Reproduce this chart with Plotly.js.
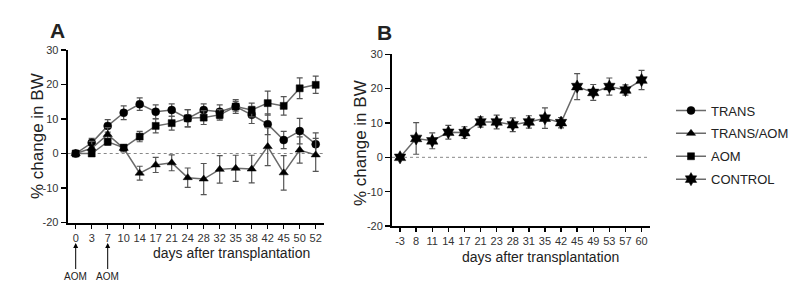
<!DOCTYPE html>
<html>
<head>
<meta charset="utf-8">
<script src="https://cdn.plot.ly/plotly-3.0.1.min.js"></script>
<style>html,body{margin:0;padding:0;background:#fff;}#chart{width:805px;height:307px;}</style>
</head>
<body>
<div id="chart"></div>
<script>
// ---------- DATA ----------
var daysA = ['0','3','7','10','14','17','21','24','28','32','35','38','42','45','50','52'];
var transVals = [0, 3.1, 8.0, 11.8, 14.3, 12.1, 12.6, 10.2, 12.6, 12.1, 13.6, 11.2, 8.5, 3.9, 6.5, 2.7];
var transErr  = [0, 1.3, 1.8, 2.0, 1.8, 2.0, 1.8, 2.5, 1.8, 2.0, 2.0, 2.5, 3.0, 2.5, 3.7, 3.3];
var transAomVals = [0, 1.5, 5.5, 1.5, -5.7, -3.3, -2.7, -7.0, -7.4, -4.6, -4.3, -4.5, 2.0, -5.6, 1.0, -0.4];
var transAomErr  = [0, 2.0, 2.0, 1.0, 2.0, 2.2, 2.3, 2.8, 4.5, 4.0, 3.8, 4.0, 5.5, 5.0, 3.8, 4.8];
var aomVals = [0, 0, 3.4, 1.7, 4.9, 8.0, 8.8, 10.2, 10.4, 11.2, 13.6, 12.6, 14.6, 13.8, 18.9, 19.9];
var aomErr  = [0, 0.5, 1.0, 0.5, 1.5, 2.0, 2.0, 2.5, 2.0, 1.5, 1.5, 2.0, 3.5, 2.7, 3.0, 2.5];

var daysB = ['-3','8','11','14','17','21','23','28','31','35','42','45','49','53','57','60'];
var controlVals = [0, 5.5, 4.8, 7.3, 7.2, 10.3, 10.3, 9.5, 10.3, 11.4, 10.1, 20.6, 18.9, 20.6, 19.6, 22.5];
var controlErr  = [0, 4.6, 2.3, 2.0, 1.7, 1.5, 2.0, 2.0, 1.8, 3.0, 1.5, 3.8, 2.3, 2.5, 1.5, 2.8];

var yTickVals = [-20, -10, 0, 10, 20, 30];
var yTickText = ['-20', '-10', '0', '10', '20', '30'];
var seriesNames = ['TRANS', 'TRANS/AOM', 'AOM', 'CONTROL'];
var aomDays = ['0', '7'];

// ---------- STYLE ----------
var W = 805, H = 307;
var FONT = 'Liberation Sans, Arial, sans-serif';
var lineCol = '#6a6a6a';
var errCol = '#555555';
function px(x){ return x / W; }
function py(y){ return (H - y) / H; }

function trace(name, x, y, err, symbol, size, xa, ya){
  return {
    type: 'scatter', mode: 'lines+markers', name: name, legendgroup: name, x: x, y: y,
    xaxis: xa, yaxis: ya,
    line: {color: lineCol, width: 1.5},
    marker: {color: '#000', size: size, symbol: symbol, line: {color: '#000', width: 0.5}},
    error_y: {type: 'data', array: err, visible: true, color: errCol, thickness: 1.2, width: 3},
    cliponaxis: false
  };
}

var data = [
  trace(seriesNames[0], daysA, transVals, transErr, 'circle', 8, 'x', 'y'),
  trace(seriesNames[1], daysA, transAomVals, transAomErr, 'triangle-up', 8, 'x', 'y'),
  trace(seriesNames[2], daysA, aomVals, aomErr, 'square', 7, 'x', 'y'),
  trace(seriesNames[3], daysB, controlVals, controlErr, 'hexagram', 10, 'x2', 'y2')
];

function xAxis(domain, anchor){
  return {
    type: 'category', domain: domain, anchor: anchor, range: [-0.5, 15.5],
    showline: true, linecolor: '#000', linewidth: 2, showgrid: false, zeroline: false,
    ticks: 'outside', ticklen: 4, tickwidth: 1.5, tickcolor: '#000',
    tickfont: {family: FONT, size: 11, color: '#333'}, fixedrange: true
  };
}
function yAxis(domain, anchor){
  return {
    domain: domain, anchor: anchor, range: [-20, 30],
    tickvals: yTickVals, ticktext: yTickText,
    showline: true, linecolor: '#000', linewidth: 2, showgrid: false, zeroline: false,
    ticks: 'outside', ticklen: 5, tickwidth: 1.5, tickcolor: '#000',
    tickfont: {family: FONT, size: 11, color: '#333'}, fixedrange: true
  };
}

var axA = [67.7, 323.7], axB = [392, 649.6];
var yA = [222.5, 50], yB = [226, 54.3];

function label(text, x, y, size, angle){
  return {text: text, xref: 'paper', yref: 'paper', x: px(x), y: py(y), showarrow: false,
          xanchor: 'center', yanchor: 'middle', textangle: angle || 0,
          font: {family: FONT, size: size, color: '#222'}};
}
var annotations = [
  label('<b>A</b>', 57, 30, 21),
  label('<b>B</b>', 384, 32, 21),
  label('% change in BW', 37, 136, 17, -90),
  label('% change in BW', 360, 143, 17, -90),
  label('days after transplantation', 232, 253, 14),
  label('days after transplantation', 540, 257, 14)
];
aomDays.forEach(function(d){
  annotations.push({
    text: 'AOM', xref: 'x', yref: 'paper', x: daysA.indexOf(d), y: py(243), ax: 0, ay: 33,
    xanchor: 'center', yanchor: 'middle',
    showarrow: true, arrowhead: 2, arrowsize: 1, arrowwidth: 1, arrowcolor: '#000',
    font: {family: FONT, size: 10, color: '#222'}
  });
});

var layout = {
  width: W, height: H,
  margin: {l: 0, r: 0, t: 0, b: 0},
  paper_bgcolor: '#fff', plot_bgcolor: 'rgba(0,0,0,0)',
  showlegend: true,
  legend: {x: px(671), y: py(95.5), xanchor: 'left', yanchor: 'top', tracegroupgap: 3,
           font: {family: FONT, size: 13, color: '#222'}, bgcolor: 'rgba(0,0,0,0)', itemwidth: 30},
  xaxis: xAxis([px(axA[0]), px(axA[1])], 'y'),
  yaxis: yAxis([py(yA[0]), py(yA[1])], 'x'),
  xaxis2: xAxis([px(axB[0]), px(axB[1])], 'y2'),
  yaxis2: yAxis([py(yB[0]), py(yB[1])], 'x2'),
  shapes: [
    {type: 'line', xref: 'x domain', yref: 'y', x0: 0, x1: 1, y0: 0, y1: 0,
     line: {color: '#888', width: 1, dash: 'dot'}, layer: 'below'},
    {type: 'line', xref: 'x2 domain', yref: 'y2', x0: 0, x1: 1, y0: 0, y1: 0,
     line: {color: '#888', width: 1, dash: 'dot'}, layer: 'below'}
  ],
  annotations: annotations,
  font: {family: FONT}
};

Plotly.newPlot('chart', data, layout, {displayModeBar: false, staticPlot: true});
</script>
</body>
</html>
